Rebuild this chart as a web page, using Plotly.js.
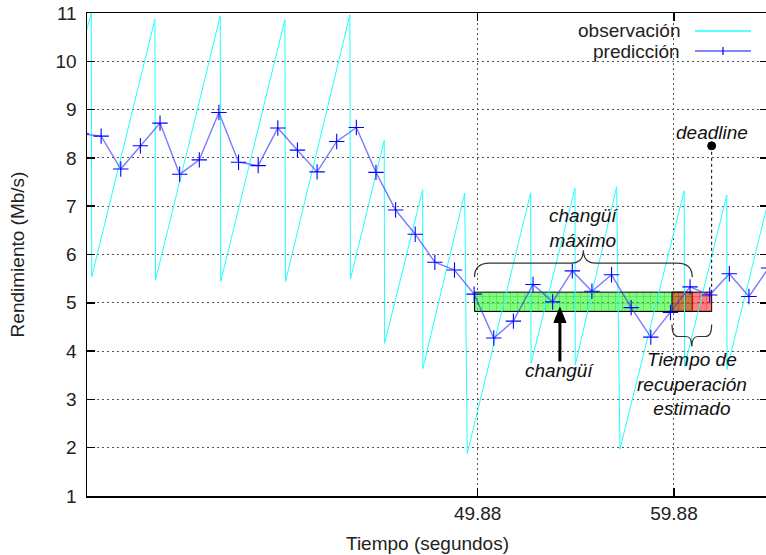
<!DOCTYPE html>
<html><head><meta charset="utf-8">
<script src="https://cdn.plot.ly/plotly-3.0.1.min.js"></script>
<style>html,body{margin:0;padding:0;overflow:hidden;background:#fff}#chart{width:772px;height:555px}</style>
</head><body><div id="chart"></div>
<script>
// ---- data ----
const predT = [29.7,30.7,31.7,32.7,33.7,34.7,35.7,36.7,37.7,38.7,39.7,40.7,41.7,42.7,43.7,44.7,45.7,46.7,47.7,48.7,49.7,50.7,51.7,52.7,53.7,54.7,55.7,56.7,57.7,58.7,59.7,60.7,61.7,62.7,63.7,64.7];
const predV = [8.50,8.45,7.77,8.25,8.72,7.66,7.96,8.94,7.91,7.84,8.62,8.16,7.71,8.34,8.63,7.70,6.92,6.42,5.84,5.68,5.18,4.27,4.62,5.38,5.02,5.66,5.24,5.58,4.90,4.29,4.80,5.33,5.16,5.60,5.13,5.72];
const obsT = [29.90,30.20,30.22,33.44,33.47,36.77,36.79,40.06,40.09,43.37,43.40,45.12,45.14,47.08,47.09,49.22,49.35,52.58,52.60,54.84,54.85,56.96,57.13,60.40,60.42,62.57,62.58,64.80];
const obsV = [10.55,11.00,5.54,10.87,5.47,10.94,5.44,10.86,5.44,10.96,5.49,8.36,4.16,7.34,3.64,7.27,1.88,7.28,3.75,7.37,3.71,7.40,1.97,7.32,3.68,7.23,3.62,7.30];
const xTickVals = [49.88, 59.88];
const xTickText = ['49.88', '59.88'];
const yTickVals = [1,2,3,4,5,6,7,8,9,10,11];
const changuiMax = [49.72, 60.81];
const recovery = [59.78, 61.80];
const deadlineT = 61.80;
const deadlineLevel = 8.25;
const barLevel = 5.02;
const barHalf = 0.2;
const changuiT = 54.07;
const seriesNames = ['observación', 'predicción'];

// ---- layout geometry ----
const W = 772, H = 555;
const M = {l: 87, r: 4, t: 13, b: 59};
const XR = [29.98, 64.67], YR = [1, 11];
const pw = W - M.l - M.r, ph = H - M.t - M.b;
const sx = (XR[1] - XR[0]) / pw;   // data units per px
const sy = (YR[1] - YR[0]) / ph;
const FONT = '"Liberation Sans", Arial, Helvetica, sans-serif';
const px2paperX = px => (px - M.l) / pw;
const py2paperY = py => (H - M.b - py) / ph;

function brace(x0, x1, yEnd, dir, h1, h2, r1, r2) {
  const yh = yEnd + dir * h1 * sy, yc = yEnd + dir * (h1 + h2) * sy;
  const xm = (x0 + x1) / 2, a = r1 * sx, b = r2 * sx;
  return `M ${x0},${yEnd} Q ${x0},${yh} ${x0 + a},${yh} L ${xm - b},${yh} Q ${xm},${yh} ${xm},${yc} ` +
         `Q ${xm},${yh} ${xm + b},${yh} L ${x1 - a},${yh} Q ${x1},${yh} ${x1},${yEnd}`;
}

const barTop = barLevel + barHalf, barBot = barLevel - barHalf;

const traces = [
  {type: 'bar', orientation: 'h', y: [barLevel], x: [changuiMax[1] - changuiMax[0]], base: [changuiMax[0]],
   width: [2 * barHalf], hoverinfo: 'skip', showlegend: false,
   marker: {color: 'rgba(0,255,0,0.5)', line: {color: '#000', width: 1},
            pattern: {shape: '+', size: 7, solidity: 0.12, fgcolor: 'rgba(0,140,0,0.5)', bgcolor: 'rgba(0,255,0,0.5)', fgopacity: 1}}},
  {type: 'bar', orientation: 'h', y: [barLevel], x: [recovery[1] - recovery[0]], base: [recovery[0]],
   width: [2 * barHalf], hoverinfo: 'skip', showlegend: false,
   marker: {color: 'rgba(255,0,0,0.5)', line: {color: '#000', width: 1},
            pattern: {shape: '+', size: 7, solidity: 0.12, fgcolor: 'rgba(220,0,0,0.6)', bgcolor: 'rgba(255,0,0,0.5)', fgopacity: 1}}},
  {type: 'scatter', mode: 'lines', name: seriesNames[0], x: obsT, y: obsV, showlegend: false,
   line: {color: '#22ffff', width: 1}},
  {type: 'scatter', mode: 'lines+markers', name: seriesNames[1], x: predT, y: predV, showlegend: false,
   line: {color: 'rgba(50,50,255,0.65)', width: 1.4},
   marker: {symbol: 'cross-thin', size: 11, color: '#0000ff', line: {color: '#0000ff', width: 1.1}}}
];

const shapes = [
  {type: 'path', xref: 'x', yref: 'y', line: {color: '#333', width: 1.2},
   path: brace(changuiMax[0], changuiMax[1], barTop + 15 * sy, 1, 14, 13, 15, 12)},
  {type: 'path', xref: 'x', yref: 'y', line: {color: '#333', width: 1.2},
   path: brace(recovery[0], recovery[1], barBot - 13 * sy, -1, 12, 10, 6, 6)},
  {type: 'line', xref: 'x', yref: 'y', x0: changuiT, x1: changuiT, y0: barBot - 50 * sy, y1: barBot - 10 * sy,
   line: {color: '#000', width: 3}},
  {type: 'path', xref: 'x', yref: 'y', fillcolor: '#000', line: {color: '#000', width: 1},
   path: `M ${changuiT},${barBot + 4 * sy} L ${changuiT - 6 * sx},${barBot - 11 * sy} L ${changuiT + 6 * sx},${barBot - 11 * sy} Z`},
  {type: 'line', xref: 'x', yref: 'y', x0: deadlineT, x1: deadlineT, y0: deadlineLevel, y1: barTop,
   line: {color: '#000', width: 1, dash: 'dot'}},
  {type: 'circle', xref: 'x', yref: 'y', xsizemode: 'pixel', ysizemode: 'pixel', xanchor: deadlineT, yanchor: deadlineLevel,
   x0: -4, x1: 4, y0: -4, y1: 4, fillcolor: '#000', line: {color: '#000', width: 1}},
  {type: 'line', xref: 'paper', yref: 'paper', x0: px2paperX(695), x1: px2paperX(751), y0: py2paperY(31), y1: py2paperY(31),
   line: {color: '#22ffff', width: 1.3}},
  {type: 'line', xref: 'paper', yref: 'paper', x0: px2paperX(695), x1: px2paperX(751), y0: py2paperY(51), y1: py2paperY(51),
   line: {color: 'rgba(50,50,255,0.8)', width: 1.5}},
  {type: 'line', xref: 'paper', yref: 'paper', x0: px2paperX(723), x1: px2paperX(723), y0: py2paperY(47), y1: py2paperY(55),
   line: {color: '#0000ff', width: 1.2}}
];

const italic = {family: FONT, size: 19, color: '#111'};
const annotations = [
  {xref: 'paper', yref: 'paper', x: px2paperX(682), y: py2paperY(31), xanchor: 'right', yanchor: 'middle',
   text: seriesNames[0], showarrow: false, font: {family: FONT, size: 19, color: '#222'}},
  {xref: 'paper', yref: 'paper', x: px2paperX(682), y: py2paperY(51), xanchor: 'right', yanchor: 'middle',
   text: seriesNames[1], showarrow: false, font: {family: FONT, size: 19, color: '#222'}},
  {xref: 'x', yref: 'y', x: (changuiMax[0] + changuiMax[1]) / 2, y: barTop + 64 * sy, xanchor: 'center', yanchor: 'middle',
   text: '<i>changüí</i><br><i>máximo</i>', showarrow: false, font: italic},
  {xref: 'x', yref: 'y', x: changuiT, y: barBot - 59 * sy, xanchor: 'center', yanchor: 'middle',
   text: '<i>changüí</i>', showarrow: false, font: italic},
  {xref: 'x', yref: 'y', x: (recovery[0] + recovery[1]) / 2, y: barBot - 73 * sy, xanchor: 'center', yanchor: 'middle',
   text: '<i>Tiempo de</i><br><i>recuperación</i><br><i>estimado</i>', showarrow: false, font: italic},
  {xref: 'x', yref: 'y', x: deadlineT, y: deadlineLevel + 13 * sy, xanchor: 'center', yanchor: 'middle',
   text: '<i>deadline</i>', showarrow: false, font: italic}
];

const axisCommon = {
  showline: true, linecolor: '#000', linewidth: 1.5, ticks: 'inside', ticklen: 8, tickwidth: 1.5, tickcolor: '#000',
  showgrid: true, gridcolor: '#555', gridwidth: 1, griddash: '2px,3px', zeroline: false,
  tickfont: {family: FONT, size: 19, color: '#222'}, fixedrange: true
};

const layout = {
  width: W, height: H, margin: M, paper_bgcolor: '#fff', plot_bgcolor: '#fff',
  showlegend: false, barmode: 'overlay',
  font: {family: FONT, size: 19, color: '#222'},
  xaxis: Object.assign({}, axisCommon, {range: XR, tickmode: 'array', tickvals: xTickVals, ticktext: xTickText,
    mirror: 'ticks', title: {text: 'Tiempo (segundos)', standoff: 13, font: {family: FONT, size: 19, color: '#222'}}}),
  yaxis: Object.assign({}, axisCommon, {range: YR, tickmode: 'array', tickvals: yTickVals, mirror: 'ticks',
    ticklabelstandoff: 5,
    title: {text: 'Rendimiento (Mb/s)', standoff: 26, font: {family: FONT, size: 19, color: '#222'}}}),
  shapes: shapes, annotations: annotations
};

Plotly.newPlot('chart', traces, layout, {staticPlot: true, displayModeBar: false});
</script></body></html>
